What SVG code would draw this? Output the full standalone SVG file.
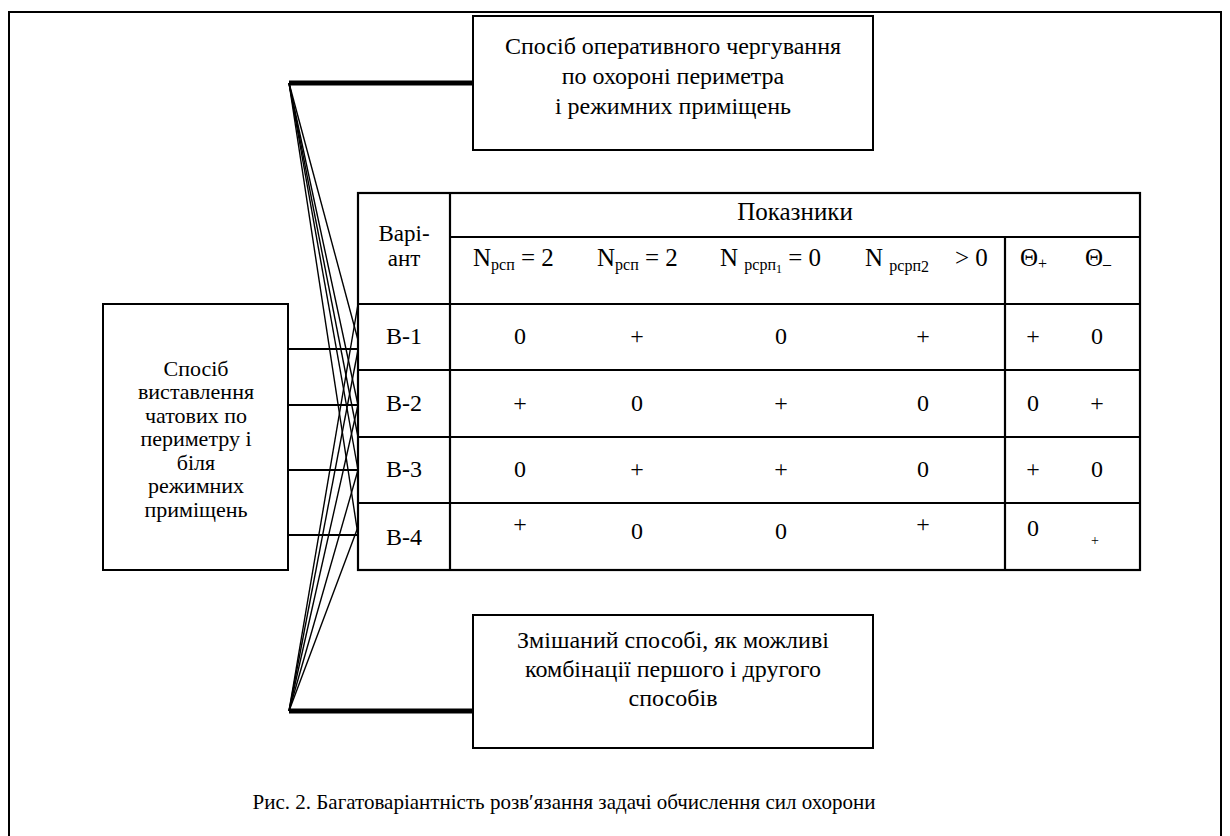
<svg xmlns="http://www.w3.org/2000/svg" width="1230" height="836" viewBox="0 0 1230 836" font-family="'Liberation Serif', 'Times New Roman', serif">
<style>
text{font-family:'Liberation Serif','Times New Roman',serif;fill:#000}
.t{font-size:24px}
.n{font-size:25px}
.l{font-size:22px}
.v{font-size:23px}
.c{text-anchor:middle}
.sub{font-size:16px}
.box{fill:#fff;stroke:#000;stroke-width:2}
.grid{stroke:#000;stroke-width:2.2;fill:none}
.fan{stroke:#000;stroke-width:1.4;fill:none}
.thick{stroke:#000;stroke-width:5;fill:none}
.h{stroke:#000;stroke-width:2;fill:none}
</style>
<rect x="9" y="12" width="1212" height="830" fill="none" stroke="#000" stroke-width="2"/>
<g id="connectors">
<line class="thick" x1="289" y1="83" x2="473" y2="83"/>
<line class="thick" x1="289" y1="711" x2="473" y2="711"/>
<line class="fan" x1="289" y1="83" x2="358" y2="340"/>
<line class="fan" x1="289" y1="83" x2="358" y2="405"/>
<line class="fan" x1="289" y1="83" x2="358" y2="437"/>
<line class="fan" x1="289" y1="83" x2="358" y2="470"/>
<line class="fan" x1="289" y1="83" x2="358" y2="535"/>
<line class="fan" x1="289" y1="711" x2="358" y2="304"/>
<line class="fan" x1="289" y1="711" x2="358" y2="350"/>
<line class="fan" x1="289" y1="711" x2="358" y2="405"/>
<line class="fan" x1="289" y1="711" x2="358" y2="470"/>
<line class="fan" x1="289" y1="711" x2="358" y2="527"/>
<line class="h" x1="289" y1="349" x2="358" y2="349"/>
<line class="h" x1="289" y1="405" x2="358" y2="405"/>
<line class="h" x1="289" y1="470" x2="358" y2="470"/>
<line class="h" x1="289" y1="535" x2="358" y2="535"/>
</g>
<g id="node-top">
<rect class="box" x="473" y="16" width="400" height="134"/>
<text class="t c" x="673" y="54">Спосіб оперативного чергування</text>
<text class="t c" x="673" y="84">по охороні периметра</text>
<text class="t c" x="673" y="114">і режимних приміщень</text>
</g>
<g id="node-bottom">
<rect class="box" x="473" y="615" width="400" height="133"/>
<text class="t c" x="673" y="648">Змішаний способі, як можливі</text>
<text class="t c" x="673" y="677">комбінації першого і другого</text>
<text class="t c" x="673" y="706">способів</text>
</g>
<g id="node-left">
<rect class="box" x="103" y="304" width="185" height="266"/>
<text class="l c" x="196" y="375.5">Спосіб</text>
<text class="l c" x="196" y="399">виставлення</text>
<text class="l c" x="196" y="422.5">чатових по</text>
<text class="l c" x="196" y="446">периметру і</text>
<text class="l c" x="196" y="469.5">біля</text>
<text class="l c" x="196" y="493">режимних</text>
<text class="l c" x="196" y="516.5">приміщень</text>
</g>
<g id="node-table">
<rect class="grid" x="358" y="193" width="782" height="377"/>
<line class="grid" x1="450" y1="193" x2="450" y2="570"/>
<line class="grid" x1="450" y1="237" x2="1140" y2="237"/>
<line class="grid" x1="1005" y1="237" x2="1005" y2="570"/>
<line class="grid" x1="358" y1="304" x2="1140" y2="304"/>
<line class="grid" x1="358" y1="370" x2="1140" y2="370"/>
<line class="grid" x1="358" y1="437" x2="1140" y2="437"/>
<line class="grid" x1="358" y1="503" x2="1140" y2="503"/>
<text class="c" font-size="25" x="795" y="220">Показники</text>
<text class="v c" x="404" y="241">Варі-</text>
<text class="v c" x="404" y="266">ант</text>
<text class="n" x="473" y="266">N<tspan class="sub" dy="4">рсп</tspan><tspan dy="-4"> = 2</tspan></text>
<text class="n" x="597" y="266">N<tspan class="sub" dy="4">рсп</tspan><tspan dy="-4"> = 2</tspan></text>
<text class="n" x="720" y="266">N <tspan class="sub" dy="4">рсрп</tspan><tspan font-size="12" dy="3">1</tspan><tspan dy="-7"> = 0</tspan></text>
<text class="n" x="865" y="266">N <tspan class="sub" dy="5">рсрп</tspan><tspan class="sub" dy="1">2</tspan><tspan dy="-6" x="955">&gt; 0</tspan></text>
<text class="n" x="1020" y="266">Θ<tspan class="sub" dy="3">+</tspan></text>
<text class="n" x="1085" y="266">Θ<tspan class="sub" dy="3">–</tspan></text>
<text class="t c" x="404" y="344">В-1</text>
<text class="t c" x="404" y="411">В-2</text>
<text class="t c" x="404" y="477">В-3</text>
<text class="t c" x="404" y="545">В-4</text>
<text class="t c" x="520" y="344">0</text><text class="t c" x="637" y="344">+</text><text class="t c" x="781" y="344">0</text><text class="t c" x="923" y="344">+</text><text class="t c" x="1033" y="344">+</text><text class="t c" x="1097" y="344">0</text>
<text class="t c" x="520" y="411">+</text><text class="t c" x="637" y="411">0</text><text class="t c" x="781" y="411">+</text><text class="t c" x="923" y="411">0</text><text class="t c" x="1033" y="411">0</text><text class="t c" x="1097" y="411">+</text>
<text class="t c" x="520" y="477">0</text><text class="t c" x="637" y="477">+</text><text class="t c" x="781" y="477">+</text><text class="t c" x="923" y="477">0</text><text class="t c" x="1033" y="477">+</text><text class="t c" x="1097" y="477">0</text>
<text class="t c" x="520" y="532">+</text><text class="t c" x="637" y="539">0</text><text class="t c" x="781" y="539">0</text><text class="t c" x="923" y="532">+</text><text class="t c" x="1033" y="536">0</text><text class="c" font-size="14" x="1095" y="545">+</text>
</g>
<text font-size="21" class="c" x="564" y="809">Рис. 2. Багатоваріантність розв′язання задачі обчислення сил охорони</text>
</svg>
